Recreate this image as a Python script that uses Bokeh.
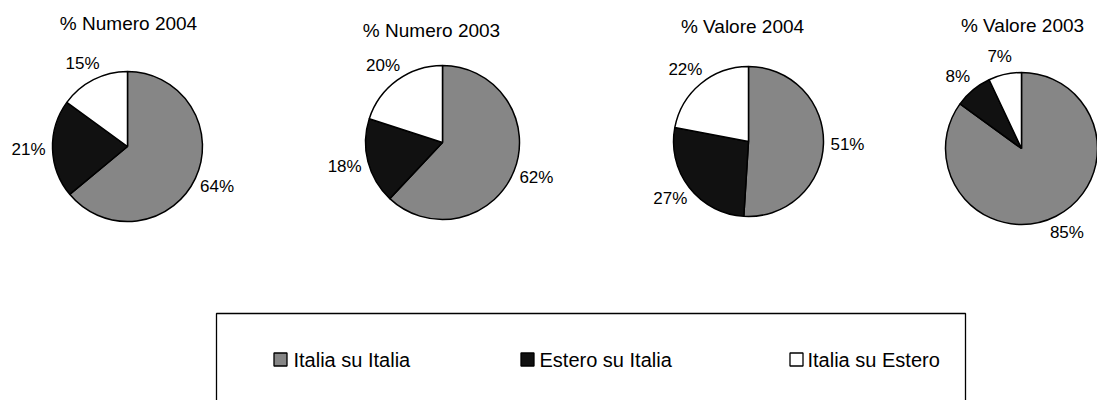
import math
from bokeh.plotting import figure
from bokeh.models import Range1d
from bokeh.core.properties import value
from bokeh.embed import file_html
from bokeh.resources import INLINE

# ---------------- data ----------------
categories = ["Italia su Italia", "Estero su Italia", "Italia su Estero"]
titles = ["% Numero 2004", "% Numero 2003", "% Valore 2004", "% Valore 2003"]
numero_2004 = [64, 21, 15]
numero_2003 = [62, 18, 20]
valore_2004 = [51, 27, 22]
valore_2003 = [85, 8, 7]
series = [numero_2004, numero_2003, valore_2004, valore_2003]

# ---------------- style / layout ----------------
colors = ["#868686", "#111111", "#ffffff"]
FONT = value("Liberation Sans")
H = 407  # image height used to convert pixel layout to data coordinates

pie_cx = [127, 442, 748, 1021]
pie_cy = [146, 142, 141, 148]
pie_r = [75, 77, 75, 76]
title_cx = [128, 431, 742, 1022]
title_cy = [23, 30, 26, 25]

W, HH = 1097, 400
p = figure(width=W, height=HH, output_backend="svg", toolbar_location=None,
           x_range=Range1d(0, W), y_range=Range1d(H - HH, H), min_border=0)
p.axis.visible = False
p.grid.visible = False
p.outline_line_color = None
p.background_fill_color = "white"
p.border_fill_color = "white"

for k, vals in enumerate(series):
    cx = pie_cx[k]
    cy = H - pie_cy[k]
    r = pie_r[k]
    total = float(sum(vals))
    cum = 0.0
    xs, ys, ts = [], [], []
    for i, v in enumerate(vals):
        c0 = cum / total
        c1 = (cum + v) / total
        cum += v
        p.wedge(x=cx, y=cy, radius=r,
                start_angle=math.pi / 2 - 2 * math.pi * c0,
                end_angle=math.pi / 2 - 2 * math.pi * c1,
                direction="clock", fill_color=colors[i],
                line_color="black", line_width=1.5)
        th = 2 * math.pi * (c0 + c1) / 2
        dx, dy = math.sin(th), math.cos(th)
        xs.append(cx + (r + 8) * dx + dx * 16)
        ys.append(cy + (r + 8) * dy + dy * 10)
        ts.append(f"{v}%")
    p.text(x=xs, y=ys, text=ts, text_align="center", text_baseline="middle",
           text_font=FONT, text_font_size="17px", text_color="black")
    p.text(x=[title_cx[k]], y=[H - title_cy[k]], text=[titles[k]],
           text_align="center", text_baseline="middle",
           text_font=FONT, text_font_size="19px", text_color="black")

# ---------------- legend box ----------------
p.quad(left=[216], right=[965], bottom=[H - 430], top=[H - 313],
       fill_color=None, line_color="black", line_width=1.3)
leg_sq_x = [280, 527, 796]
leg_tx_x = [293, 539, 807]
leg_y = H - 359
p.scatter(x=leg_sq_x, y=[leg_y] * 3, marker="square", size=13,
          fill_color=colors, line_color="black", line_width=1.3)
p.text(x=leg_tx_x, y=[leg_y] * 3, text=categories, text_align="left",
       text_baseline="middle", text_font=FONT, text_font_size="20px",
       text_color="black")

open("out.html", "w").write(file_html(p, INLINE))
